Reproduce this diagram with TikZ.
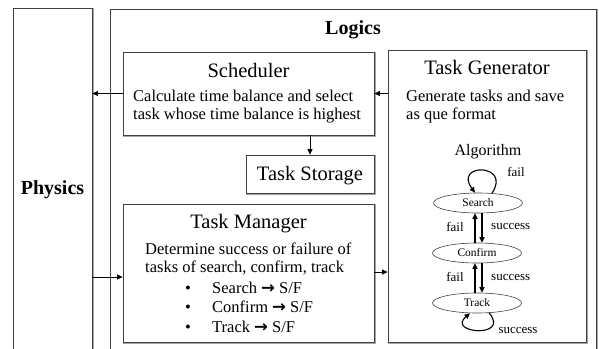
\documentclass[tikz,border=0pt]{standalone}
\usepackage{fontspec}
\setmainfont{Liberation Serif}
\newfontfamily\arwfont{DejaVu Sans}
\usetikzlibrary{shapes.geometric,arrows.meta}
\definecolor{boxc}{HTML}{404040}
\definecolor{shc}{HTML}{A6A6A6}
\begin{document}
\begin{tikzpicture}[x=1pt,y=-1pt,
  box/.style={draw=boxc, line width=0.8pt, rectangle, inner sep=0pt},
  title/.style={font=\fontsize{20.5}{24}\selectfont, inner sep=0pt, anchor=base},
  body/.style={font=\fontsize{16.5}{19}\selectfont, inner sep=0pt, anchor=base west},
  heavy/.style={font=\fontsize{20}{24}\selectfont\bfseries, inner sep=0pt, anchor=base},
  state/.style={ellipse, draw=boxc, line width=0.6pt, minimum width=89pt, minimum height=20pt, inner sep=0pt, font=\fontsize{11.5}{13}\selectfont},
  lab/.style={font=\fontsize{13}{15}\selectfont, inner sep=0pt},
  conn/.style={draw=black, line width=0.7pt, -{Triangle[length=5.5pt,width=5pt]}},
  sconn/.style={draw=black, line width=1.1pt, -{Triangle[length=5.5pt,width=5pt]}},
  shadowline/.style={draw=shc, line width=1pt}]
\useasboundingbox (0,0) rectangle (599,348);

% outer boxes (open at the bottom: they run past the page edge)
\node[box, minimum width=79pt, minimum height=344pt] (phys) at (52.5,180) {};
\node[box, minimum width=486pt, minimum height=343pt] (logic) at (353,180.5) {};
% inner boxes
\node[box, minimum width=251pt, minimum height=83pt] (sched) at (248.5,93.5) {};
\node[box, minimum width=198pt, minimum height=292pt] (tg) at (487,196) {};
\node[box, minimum width=128pt, minimum height=38pt] (stor) at (310,174) {};
\node[box, minimum width=251pt, minimum height=138pt] (mgr) at (248.5,273) {};

\foreach \b in {phys,logic,sched,tg,stor,mgr}{
  \draw[shadowline] ([xshift=1.2pt]\b.north east) -- ([xshift=1.2pt,yshift=-1.2pt]\b.south east) -- ([yshift=-1.2pt]\b.south west);
}

% labels
\node[heavy] (tlogic) at (353,34) {Logics};
\node[heavy] (tphys) at (52.5,194) {Physics};

\node[title] (tsched) at (248.5,77) {Scheduler};
\node[body] (s1) at (133,101) {Calculate time balance and select};
\node[body] (s2) at (133,119) {task whose time balance is highest};

\node[title] (ttg) at (487,74) {Task Generator};
\node[body] (g1) at (406,101) {Generate tasks and save};
\node[body] (g2) at (406,119) {as que format};
\node[font=\fontsize{16}{19}\selectfont, inner sep=0pt, anchor=base] (alg) at (488,155) {Algorithm};

\node[title] (tstor) at (310,180) {Task Storage};

\node[title] (tmgr) at (248.5,228) {Task Manager};
\node[body] (m1) at (145,254) {Determine success or failure of};
\node[body] (m2) at (145,272) {tasks of search, confirm, track};
\node[body] (b1) at (185,293) {\textbullet};
\node[body] (b2) at (185,312) {\textbullet};
\node[body] (b3) at (185,332) {\textbullet};
\node[body] (m3) at (212,293) {Search {\arwfont\bfseries →} S/F};
\node[body] (m4) at (212,312) {Confirm {\arwfont\bfseries →} S/F};
\node[body] (m5) at (212,332) {Track {\arwfont\bfseries →} S/F};

% connectors between boxes
\draw[conn] (sched.west) -- (sched.west -| phys.east);
\draw[conn] (tg.west |- sched.west) -- (sched.east);
\draw[conn] (sched.south -| stor.north) -- (stor.north);
\draw[conn] (phys.east |- 0,277) -- (mgr.west |- 0,277);
\draw[conn] (mgr.east |- 0,272) -- (tg.west |- 0,272);

% state machine
\node[state] (search) at (478,203) {Search};
\node[state] (confirm) at (477,253) {Confirm};
\node[state] (track) at (477,303) {Track};

\draw[sconn] ([xshift=-2pt]confirm.north) -- ([xshift=-3pt]search.south);
\draw[sconn] ([xshift=4pt]search.south) -- ([xshift=5pt]confirm.north);
\draw[sconn] ([xshift=-2pt]track.north) -- ([xshift=-2pt]confirm.south);
\draw[sconn] ([xshift=5pt]confirm.south) -- ([xshift=5pt]track.north);

\draw[sconn] ([xshift=14pt,yshift=-0.5pt]search.north) .. controls +(20,-30) and +(-22,-30) .. ([xshift=-3pt]search.north);
\draw[sconn] ([xshift=12pt,yshift=0.5pt]track.south) .. controls +(22,26) and +(-24,20) .. ([xshift=-7pt]track.south);

\node[lab] (lf0) at (516,172) {fail};
\node[lab] (lf1) at (455,227) {fail};
\node[lab, anchor=west] (ls1) at (491,226) {success};
\node[lab] (lf2) at (455,277) {fail};
\node[lab, anchor=west] (ls2) at (491,277) {success};
\node[lab] (ls3) at (518,330) {success};
\end{tikzpicture}
\end{document}
